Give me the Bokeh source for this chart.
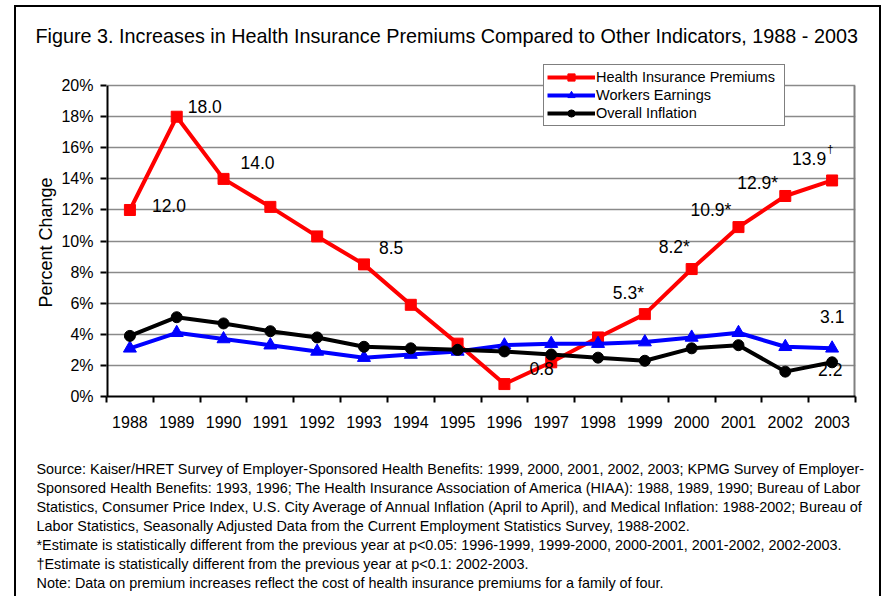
from bokeh.plotting import figure
from bokeh.models import (Range1d, LinearAxis, FixedTicker, PrintfTickFormatter, Legend,
                          LegendItem, Title, ColumnDataSource)
from bokeh.embed import file_html
from bokeh.resources import INLINE
from bokeh.core.properties import value

# ---------------- data ----------------
years = [str(y) for y in range(1988, 2004)]
premiums = [12.0, 18.0, 14.0, 12.2, 10.3, 8.5, 5.9, 3.4, 0.8, 2.2, 3.8, 5.3, 8.2, 10.9, 12.9, 13.9]
earnings = [3.1, 4.1, 3.7, 3.3, 2.9, 2.5, 2.7, 2.9, 3.3, 3.4, 3.4, 3.5, 3.8, 4.1, 3.2, 3.1]
inflation = [3.9, 5.1, 4.7, 4.2, 3.8, 3.2, 3.1, 3.0, 2.9, 2.7, 2.5, 2.3, 3.1, 3.3, 1.6, 2.2]
y_ticks = [0, 2, 4, 6, 8, 10, 12, 14, 16, 18, 20]

label_years = ["1988", "1989", "1990", "1993", "1996", "1999", "2000", "2001", "2002", "2003", "2003", "2003"]
label_values = [12.0, 18.0, 14.0, 8.5, 0.8, 5.3, 8.2, 10.9, 12.9, 13.9, 3.1, 2.2]
label_texts = ["12.0", "18.0", "14.0", "8.5", "0.8", "5.3*", "8.2*", "10.9*", "12.9*", "13.9\u2020", "3.1", "2.2"]

series_names = ["Health Insurance Premiums", "Workers Earnings", "Overall Inflation"]

title_text = "Figure 3.  Increases in Health Insurance Premiums Compared to Other Indicators, 1988 - 2003"
y_label = "Percent Change"
footer_lines = [
    "Source:  Kaiser/HRET Survey of Employer-Sponsored Health Benefits: 1999, 2000, 2001, 2002, 2003; KPMG Survey of Employer-",
    "Sponsored Health Benefits: 1993, 1996; The Health Insurance Association of America (HIAA): 1988, 1989, 1990; Bureau of Labor",
    "Statistics, Consumer Price Index, U.S. City Average of Annual Inflation (April to April), and Medical Inflation: 1988-2002; Bureau of",
    "Labor Statistics, Seasonally Adjusted Data from the Current Employment Statistics Survey, 1988-2002.",
    "*Estimate is statistically different from the previous year at p<0.05: 1996-1999, 1999-2000, 2000-2001, 2001-2002, 2002-2003.",
    "\u2020Estimate is statistically different from the previous year at p<0.1: 2002-2003.",
    "Note:  Data on premium increases reflect the cost of health insurance premiums for a family of four.",
]

# ---------------- layout / style (page pixel coordinates) ----------------
FONT = "Liberation Sans"
PAGE_W, PAGE_H = 881, 596
BL, BT, BR = 14, 5, 879          # outer box: left margin, top margin, right edge
BW = 2                           # outer box line width
OX, OY = BL + BW, BT + BW        # canvas origin on the page
W, H = BR - OX, PAGE_H - OY      # canvas size
AX_L, AX_R, AX_T, AX_B = 106, 851, 85, 394   # plot area (0..20%) on the page
FR_T = 61                        # frame top (leaves room for the legend)
Y_TOP = 20 * (AX_B - FR_T) / (AX_B - AX_T)

label_dx = [22, 11, 17, 15, 25, -32, -33, -48, -48, -40, -12, -14]
label_dy = [-4, -10, -16, -17, -16, -21, -22, -17, -13, -22, -32, 7]

pos = {yr: i + 0.5 for i, yr in enumerate(years)}
xs = [pos[y] for y in years]

p = figure(width=W, height=H, x_range=Range1d(0, len(years)), y_range=Range1d(0, Y_TOP),
           output_backend="svg", toolbar_location=None, x_axis_location=None, y_axis_location="left",
           min_border_left=AX_L - OX, min_border_right=BR - AX_R, min_border_top=FR_T - OY,
           min_border_bottom=PAGE_H - AX_B,
           styles={"margin-left": f"{BL}px", "margin-top": f"{BT}px",
                   "border-left": f"{BW}px solid black", "border-top": f"{BW}px solid black",
                   "border-right": f"{BW}px solid black", "box-sizing": "content-box"})
p.background_fill_color = "white"
p.border_fill_color = "white"
p.outline_line_color = None

# title
p.title.text = title_text
p.title.align = "left"
p.title.offset = 35 - AX_L
p.title.text_font = FONT
p.title.text_font_size = "19.8px"
p.title.text_font_style = "normal"
p.title.text_color = "black"
p.title.standoff = 30

# y axis
yax = p.yaxis[0]
yax.ticker = FixedTicker(ticks=y_ticks)
yax.formatter = PrintfTickFormatter(format="%d%%")
yax.major_tick_out = 6
yax.major_tick_in = 0
yax.minor_tick_line_color = None
yax.axis_line_color = None
yax.major_tick_line_width = 2
yax.major_tick_line_color = "black"
yax.major_label_text_font = FONT
yax.major_label_text_font_size = "16px"
yax.major_label_text_color = "black"
yax.major_label_standoff = 7
p.add_layout(Title(text=y_label, align="left", offset=AX_B - 305, text_font=FONT,
                   text_font_size="18px", text_font_style="normal", text_color="black",
                   standoff=6), "left")

p.ygrid.ticker = FixedTicker(ticks=y_ticks)
p.ygrid.grid_line_color = "#8a8a8a"
p.ygrid.grid_line_width = 1.5
p.xgrid.visible = False

# plot-area sides (left axis line black, right border grey)
p.segment(x0=[0], y0=[0], x1=[0], y1=[20], line_color="black", line_width=4)
p.segment(x0=[len(years)], y0=[0], x1=[len(years)], y1=[20], line_color="#808080", line_width=4)

# x axis: boundary ticks + centred year labels
tick_axis = LinearAxis(ticker=FixedTicker(ticks=list(range(len(years) + 1))),
                       major_label_overrides={i: "" for i in range(len(years) + 1)},
                       major_label_text_color=None, major_label_text_font_size="1px",
                       major_label_standoff=0,
                       major_tick_out=6, major_tick_in=0, minor_tick_line_color=None,
                       axis_line_width=2, major_tick_line_width=2,
                       axis_line_color="black", major_tick_line_color="black")
p.add_layout(tick_axis, "below")
label_axis = LinearAxis(ticker=FixedTicker(ticks=xs),
                        major_label_overrides={pos[y]: y for y in years},
                        axis_line_color=None, major_tick_line_color=None, minor_tick_line_color=None,
                        major_label_text_font=FONT, major_label_text_font_size="16px",
                        major_label_text_color="black", major_label_standoff=7,
                        axis_label="Year", axis_label_text_color=None,
                        axis_label_text_font_size="16px", axis_label_standoff=8)
p.add_layout(label_axis, "below")

# series
colors = ["#FF0000", "#0000FF", "#000000"]
markers = ["square", "triangle", "circle"]
sizes = [11, 13, 11]
items = []
for name, vals, c, m, s in zip(series_names, [premiums, earnings, inflation], colors, markers, sizes):
    src = ColumnDataSource(dict(x=xs, y=vals))
    lr = p.line("x", "y", source=src, line_color=c, line_width=4)
    sr = p.scatter("x", "y", source=src, marker=m, size=s, fill_color=c, line_color=c)
    items.append(LegendItem(label=name, renderers=[lr, sr]))

# data labels
main_txt, sup_txt = [], []
for t in label_texts:
    if t.endswith("\u2020"):
        main_txt.append(t[:-1]); sup_txt.append(t[-1])
    else:
        main_txt.append(t); sup_txt.append("")
lsrc = ColumnDataSource(dict(x=[pos[y] for y in label_years], y=label_values, text=main_txt,
                             dx=label_dx, dy=label_dy))
p.text("x", "y", text="text", source=lsrc, x_offset="dx", y_offset="dy",
       text_font=value(FONT), text_font_size="17.5px", text_color="black",
       text_align="left", text_baseline="middle")
sup_x, sup_y, sup_t, sup_dx, sup_dy = [], [], [], [], []
for yr, v, t, mt, dx, dy in zip(label_years, label_values, sup_txt, main_txt, label_dx, label_dy):
    if t:
        sup_x.append(pos[yr]); sup_y.append(v); sup_t.append(t)
        sup_dx.append(dx + 0.556 * 17.5 * (len(mt) - 1) + 0.278 * 17.5 + 1); sup_dy.append(dy - 9)
ssrc = ColumnDataSource(dict(x=sup_x, y=sup_y, text=sup_t, dx=sup_dx, dy=sup_dy))
p.text("x", "y", text="text", source=ssrc, x_offset="dx", y_offset="dy",
       text_font=value(FONT), text_font_size="11px", text_color="black",
       text_align="left", text_baseline="middle")

# legend (frame-relative screen position)
legend = Legend(items=items, location=(543 - AX_L, AX_B - 124),
                label_text_font=FONT, label_text_font_size="14.5px", label_text_color="black",
                glyph_width=48, glyph_height=18, label_height=18, label_width=185,
                label_standoff=1, spacing=0, padding=3, margin=0,
                border_line_color="black", border_line_width=1,
                background_fill_color="white", background_fill_alpha=1)
p.add_layout(legend)

# footer notes
for i, line in enumerate(footer_lines):
    p.add_layout(Title(text=line, align="left", offset=36 - AX_L, text_font=FONT,
                       text_font_size="14.4px", text_font_style="normal", text_color="black",
                       standoff=1), "below")

open("out.html", "w").write(file_html(p, INLINE))
